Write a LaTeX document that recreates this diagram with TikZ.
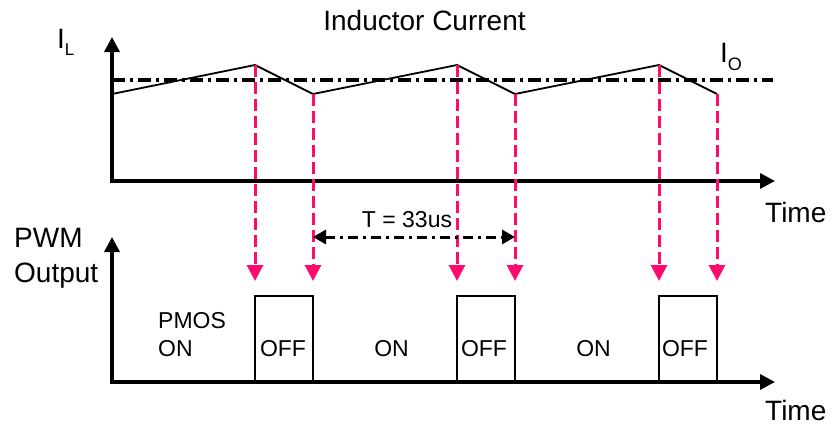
\documentclass[tikz,border=0pt]{standalone}
\usepackage{fontspec}
\setmainfont{Liberation Sans}
\usetikzlibrary{arrows.meta}
\definecolor{pinkred}{HTML}{FF0A6E}
\begin{document}
\begin{tikzpicture}[x=1pt,y=-1pt,
  axis/.style={line width=3.3pt,line join=miter,{Triangle[length=15pt,width=15pt]}-{Triangle[length=15pt,width=15pt]}},
  wave/.style={line width=1.8pt},
  guide/.style={pinkred,line width=3pt,dash pattern=on 12pt off 5pt,-{Triangle[length=16pt,width=16pt]}},
  mean/.style={line width=3.2pt,dash pattern=on 13pt off 5pt on 3pt off 5pt},
  dim/.style={line width=3pt,dash pattern=on 10pt off 5pt on 3pt off 5pt,{Triangle[length=13pt,width=14pt]}-{Triangle[length=13pt,width=14pt]}},
  offbox/.style={line width=1.6pt},
  big/.style={font=\fontsize{28}{30}\selectfont, inner sep=0pt},
  small/.style={font=\fontsize{23}{25}\selectfont, inner sep=0pt}
]
\useasboundingbox (0,0) rectangle (831,426);

% axes
\coordinate (ta) at (112,37);
\coordinate (to) at (112,181);
\coordinate (tb) at (775,181);
\coordinate (ba) at (112,237);
\coordinate (bo) at (112,382);
\coordinate (bb) at (775,382);
\draw[axis] (ta) -- (to) -- (tb);
\draw[axis] (ba) -- (bo) -- (bb);

% mean current line
\coordinate (m0) at (112,80);
\coordinate (m1) at (773,80);
\draw[mean] (m0) -- (m1);

% waveform
\coordinate (w0) at (112,94);
\coordinate (p1) at (255,65);
\coordinate (v1) at (313,94);
\coordinate (p2) at (457,65);
\coordinate (v2) at (515,94);
\coordinate (p3) at (659,65);
\coordinate (v3) at (717,94);
\draw[wave] (w0) -- (p1) -- (v1) -- (p2) -- (v2) -- (p3) -- (v3);

% guide arrows
\foreach \n/\x in {p1/255,v1/313,p2/457,v2/515,p3/659,v3/717}{
  \coordinate (g\n) at (\x,281);
  \draw[guide] (\n) -- (g\n);
}

% OFF boxes
\foreach \a/\b in {255/313,457/515,659/717}{
  \draw[offbox] (\a,382) -- (\a,296) -- (\b,296) -- (\b,382);
}

% period dimension
\coordinate (d0) at (313,237);
\coordinate (d1) at (515,237);
\draw[dim] (d0) -- (d1);

% texts
\node[big,anchor=base] (title) at (424.5,30) {Inductor Current};
\node[big,anchor=base west] (il) at (57,48) {I\raisebox{-7pt}{\fontsize{17}{17}\selectfont L}};
\node[big,anchor=base west] (io) at (720,62) {I\raisebox{-8pt}{\fontsize{18}{18}\selectfont O}};
\node[big,anchor=base west] (time1) at (765,222) {Time};
\node[big,anchor=base west] (time2) at (765,420) {Time};
\node[big,anchor=base west] (pwm) at (14,247) {PWM};
\node[big,anchor=base west] (out) at (14,282) {Output};
\node[small,anchor=base west] (pmos) at (158,328) {PMOS};
\node[small,anchor=base west] (on1) at (158,356) {ON};
\node[small,anchor=base] (off1) at (283,356) {OFF};
\node[small,anchor=base] (on2) at (391.5,356) {ON};
\node[small,anchor=base] (off2) at (484,356) {OFF};
\node[small,anchor=base] (on3) at (593.5,356) {ON};
\node[small,anchor=base] (off3) at (685,356) {OFF};
\node[small,anchor=base] (period) at (407,227) {T = 33us};
\end{tikzpicture}
\end{document}
